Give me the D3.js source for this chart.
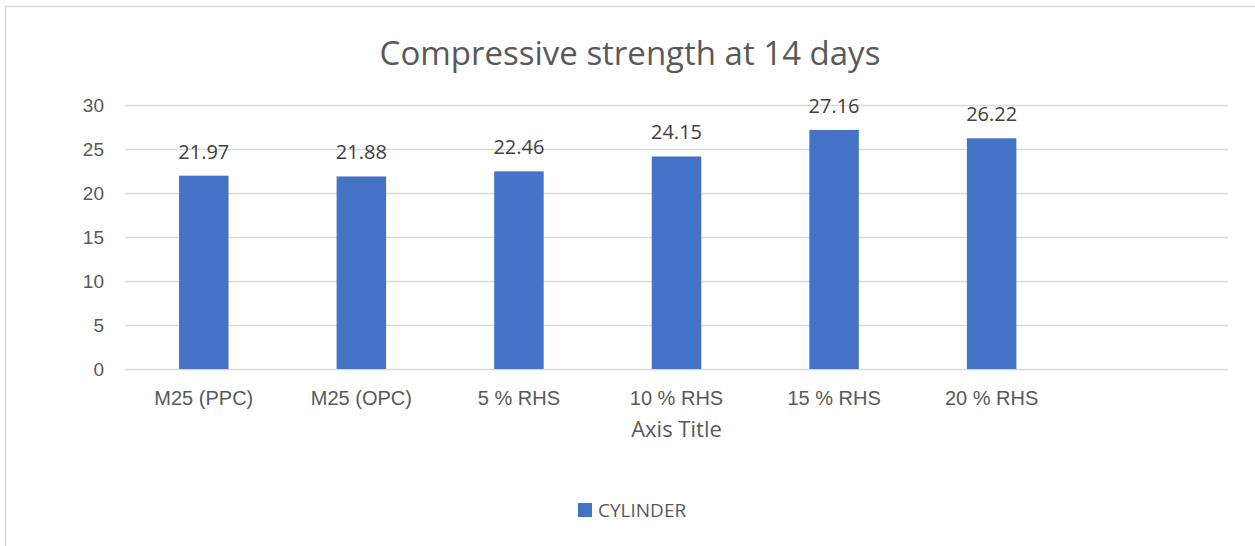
<!DOCTYPE html>
<html>
<head>
<meta charset="utf-8">
<script src="https://cdn.jsdelivr.net/npm/d3@7"></script>
<style>
  body { margin: 0; background: #fff; }
  svg { font-family: "Open Sans", "Noto Sans", sans-serif; }
</style>
</head>
<body>
<div id="chart"></div>
<script>
// chart data
const categories = ["M25 (PPC)", "M25 (OPC)", "5 % RHS", "10 % RHS", "15 % RHS", "20 % RHS", ""];
const cylinder = [21.97, 21.88, 22.46, 24.15, 27.16, 26.22];
const yTicks = [0, 5, 10, 15, 20, 25, 30];

const width = 1255, height = 546;
const margin = { top: 105, right: 27, bottom: 177, left: 125 };

const svg = d3.select("#chart").append("svg")
  .attr("width", width)
  .attr("height", height);

// chart area border
svg.append("rect")
  .attr("x", 5.5).attr("y", 6.5)
  .attr("width", width + 10).attr("height", height + 10)
  .attr("fill", "none")
  .attr("stroke", "#d9d9d9")
  .attr("stroke-width", 1.5);

let x = d3.scaleBand()
  .domain(categories)
  .range([margin.left, width - margin.right])
  .paddingInner(0.686)
  .paddingOuter(0.343);

let y = d3.scaleLinear()
  .domain([0, 30])
  .range([height - margin.bottom, margin.top]);

// gridlines
svg.append("g")
  .attr("class", "grid")
  .selectAll("line")
  .data(yTicks)
  .enter().append("line")
    .attr("x1", margin.left)
    .attr("x2", width - margin.right)
    .attr("y1", d => Math.round(y(d)) + 0.5)
    .attr("y2", d => Math.round(y(d)) + 0.5)
    .attr("stroke", "#d9d9d9")
    .attr("stroke-width", 1.3);

// y axis labels
const yAxis = d3.axisLeft(y).tickValues(yTicks).tickSize(0).tickPadding(0);
svg.append("g")
  .attr("transform", `translate(${104},0)`)
  .call(yAxis)
  .call(g => g.select(".domain").remove())
  .selectAll("text")
    .attr("fill", "#595959")
    .style("font-size", "19px");

// x axis labels
const xAxis = d3.axisBottom(x).tickSize(0).tickPadding(0);
svg.append("g")
  .attr("transform", `translate(0,${height - margin.bottom + 22})`)
  .call(xAxis)
  .call(g => g.select(".domain").remove())
  .selectAll("text")
    .attr("fill", "#595959")
    .style("font-size", "20px");

// bars
svg.append("g")
  .selectAll("rect")
  .data(cylinder)
  .enter().append("rect")
    .attr("x", (d, i) => x(categories[i]))
    .attr("y", d => y(d))
    .attr("width", x.bandwidth())
    .attr("height", d => y(0) - y(d))
    .attr("fill", "#4472c4");

// data labels
svg.append("g")
  .selectAll("text")
  .data(cylinder)
  .enter().append("text")
    .attr("x", (d, i) => x(categories[i]) + x.bandwidth() / 2)
    .attr("y", d => y(d) - 17)
    .attr("text-anchor", "middle")
    .attr("fill", "#404040")
    .style("font-size", "20px")
    .text(d => d.toFixed(2));

// title
svg.append("text")
  .attr("x", 630)
  .attr("y", 65)
  .attr("text-anchor", "middle")
  .attr("fill", "#595959")
  .style("font-size", "33px")
  .text("Compressive strength at 14 days");

// axis title
svg.append("text")
  .attr("x", (margin.left + width - margin.right) / 2)
  .attr("y", 437)
  .attr("text-anchor", "middle")
  .attr("fill", "#595959")
  .style("font-size", "22px")
  .text("Axis Title");

// legend
const legend = svg.append("g").attr("transform", "translate(578,503)");
legend.append("rect")
  .attr("width", 14).attr("height", 14)
  .attr("fill", "#4472c4");
legend.append("text")
  .attr("x", 20).attr("y", 14)
  .attr("fill", "#595959")
  .style("font-size", "19px")
  .text("CYLINDER");
</script>
</body>
</html>
